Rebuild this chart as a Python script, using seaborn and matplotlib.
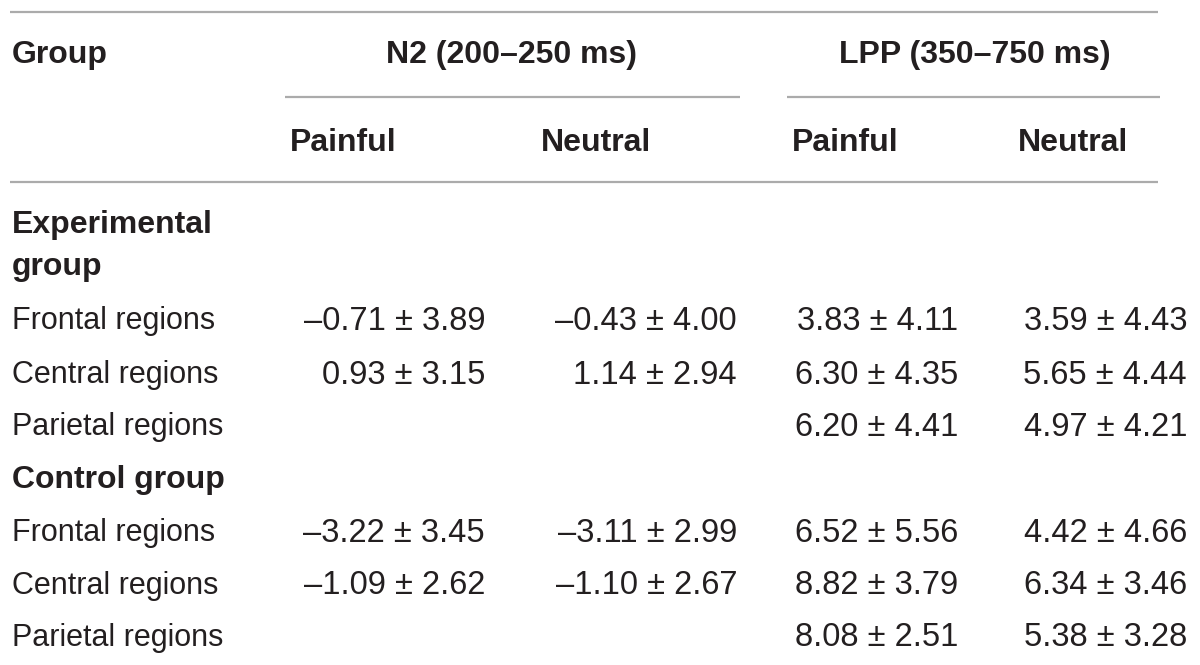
import matplotlib
matplotlib.use("Agg")
import matplotlib.pyplot as plt
import seaborn as sns

# column groups and conditions
components = ["N2 (200–250 ms)", "LPP (350–750 ms)"]
conditions = ["Painful", "Neutral", "Painful", "Neutral"]
groups = ["Experimental\ngroup", "Control group"]
regions = ["Frontal regions", "Central regions", "Parietal regions"]

# mean values per group / region, order: N2 painful, N2 neutral, LPP painful, LPP neutral
exp_means = [[-0.71, -0.43, 3.83, 3.59],
             [0.93, 1.14, 6.30, 5.65],
             [None, None, 6.20, 4.97]]
exp_sds = [[3.89, 4.00, 4.11, 4.43],
           [3.15, 2.94, 4.35, 4.44],
           [None, None, 4.41, 4.21]]
ctl_means = [[-3.22, -3.11, 6.52, 4.42],
             [-1.09, -1.10, 8.82, 6.34],
             [None, None, 8.08, 5.38]]
ctl_sds = [[3.45, 2.99, 5.56, 4.66],
           [2.62, 2.67, 3.79, 3.46],
           [None, None, 2.51, 3.28]]


def fmt(m, s):
    if m is None:
        return ""
    return f"{m:.2f} ± {s:.2f}".replace("-", "–")


def main():
    sns.set_theme(style="white")
    plt.rcParams['font.family'] = ['Liberation Sans', 'DejaVu Sans']

    fig = plt.figure(figsize=(12, 6.65), dpi=100)
    ax = fig.add_axes([0, 0, 1, 1])
    ax.set_xlim(0, 1200)
    ax.set_ylim(665, 0)
    ax.axis('off')

    txt = '#231f20'
    line = '#ababab'
    fs = 22      # body labels
    fs_b = 23    # bold headers
    fs_n = 23.5  # numbers

    # rules
    ax.hlines([12, 182], 10, 1158, color=line, lw=1.6)
    ax.hlines(97, 285, 740, color=line, lw=1.6)
    ax.hlines(97, 787, 1160, color=line, lw=1.6)

    # header
    ax.text(12, 55, "Group", fontsize=fs_b, fontweight='bold', color=txt, va='center')
    for comp, cx in zip(components, [511, 975]):
        ax.text(cx, 55, comp, fontsize=fs_b, fontweight='bold', color=txt, va='center', ha='center')
    for cond, x in zip(conditions, [290, 541, 792, 1018]):
        ax.text(x, 143, cond, fontsize=fs_b, fontweight='bold', color=txt, va='center')

    right_edges = [485, 737, 958, 1187]

    # experimental group
    ax.text(12, 246, groups[0], fontsize=fs_b, fontweight='bold', color=txt, va='center',
            linespacing=1.55)
    for i, (reg, y) in enumerate(zip(regions, [321, 375, 427])):
        ax.text(12, y, reg, fontsize=fs, color=txt, va='center')
        for j, xr in enumerate(right_edges):
            ax.text(xr, y, fmt(exp_means[i][j], exp_sds[i][j]), fontsize=fs_n, color=txt,
                    va='center', ha='right')

    # control group
    ax.text(12, 480, groups[1], fontsize=fs_b, fontweight='bold', color=txt, va='center')
    for i, (reg, y) in enumerate(zip(regions, [533, 586, 638])):
        ax.text(12, y, reg, fontsize=fs, color=txt, va='center')
        for j, xr in enumerate(right_edges):
            ax.text(xr, y, fmt(ctl_means[i][j], ctl_sds[i][j]), fontsize=fs_n, color=txt,
                    va='center', ha='right')

    fig.savefig('out.png', dpi=100, facecolor='white')
    plt.close()


if __name__ == "__main__":
    main()
